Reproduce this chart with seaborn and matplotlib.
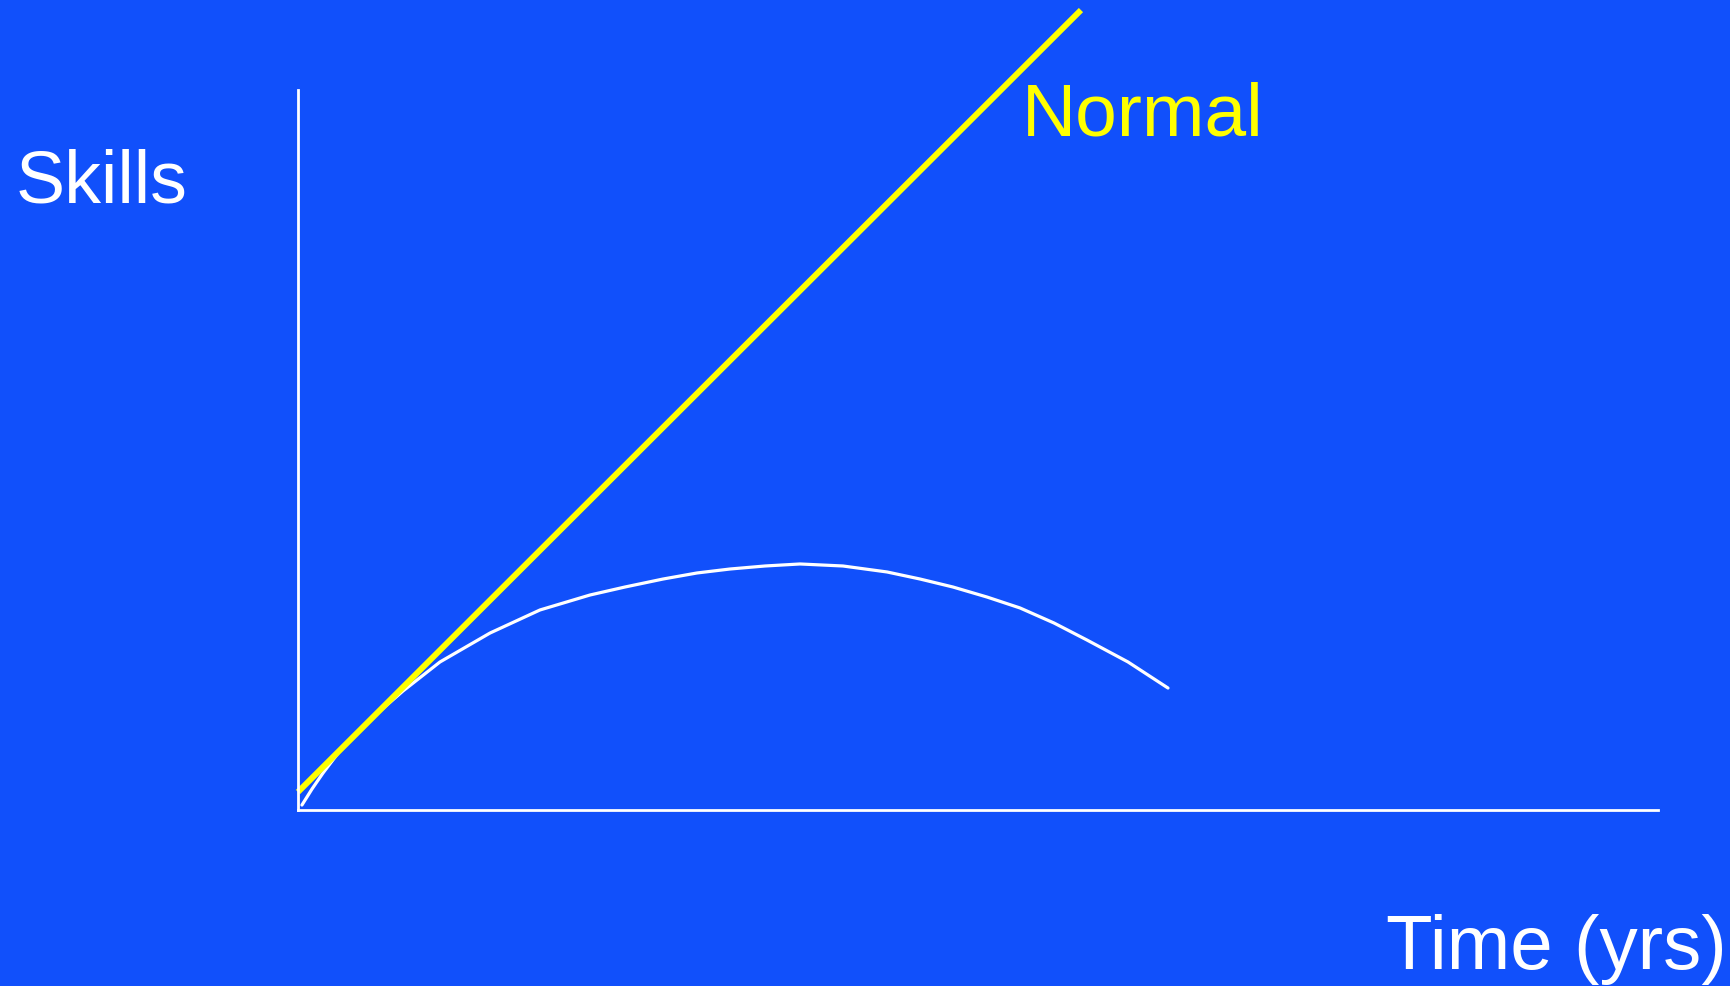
import matplotlib
matplotlib.use("Agg")
import matplotlib.pyplot as plt
import seaborn as sns
import pandas as pd

# Skill development over time: steady "Normal" growth vs. a curve that rises, peaks and declines
normal_years = [0.0, 5.757]
normal_skills = [0.25, 11.11]

curve_years = [0.029, 0.103, 0.184, 0.301, 0.434, 0.603, 0.772, 1.044, 1.412,
               1.779, 2.147, 2.404, 2.684, 2.934, 3.176, 3.434, 3.691, 4.007,
               4.331, 4.574, 4.816, 5.066, 5.309, 5.559, 5.801, 6.103, 6.397]
curve_skills = [0.069, 0.292, 0.514, 0.806, 1.069, 1.375, 1.653, 2.056, 2.458,
                2.778, 2.986, 3.097, 3.208, 3.292, 3.347, 3.389, 3.417, 3.389,
                3.306, 3.208, 3.097, 2.958, 2.806, 2.597, 2.361, 2.056, 1.694]

BG = "#1150FB"
YELLOW = "#FFFF00"

sns.set_theme(style="white")
plt.rcParams["font.family"] = ["Liberation Sans", "DejaVu Sans"]

W, H = 1730, 986
fig = plt.figure(figsize=(W / 100, H / 100), dpi=100, facecolor=BG)
ax = fig.add_axes([0, 0, 1, 1], facecolor=BG)

normal_df = pd.DataFrame({"years": normal_years, "skills": normal_skills})
curve_df = pd.DataFrame({"years": curve_years, "skills": curve_skills})

sns.lineplot(data=curve_df, x="years", y="skills", sort=False, color="white",
             linewidth=2.3, ax=ax, solid_joinstyle="round")
sns.lineplot(data=normal_df, x="years", y="skills", sort=False, color=YELLOW,
             linewidth=4.3, ax=ax, solid_capstyle="butt")

# data units: 136 px per year horizontally, 72 px per skill unit vertically
ax.set_xlim(-298 / 136, (W - 298) / 136)
ax.set_ylim(-(H - 810) / 72, 810 / 72)

for side in ("top", "right"):
    ax.spines[side].set_visible(False)
for side in ("left", "bottom"):
    ax.spines[side].set_visible(True)
    ax.spines[side].set_color("white")
    ax.spines[side].set_linewidth(2.0)
    ax.spines[side].set_position(("data", 0))
ax.spines["left"].set_bounds(0, 10)
ax.spines["bottom"].set_bounds(0, 10)
ax.set_xticks([])
ax.set_yticks([])
ax.set_xlabel("")
ax.set_ylabel("")

fig.text(16 / W, 1 - 203 / H, "Skills", color="white", fontsize=53,
         ha="left", va="baseline")
fig.text(1022 / W, 1 - 135 / H, "Normal", color=YELLOW, fontsize=54,
         ha="left", va="baseline")
fig.text(1386 / W, 1 - 969 / H, "Time (yrs)", color="white", fontsize=55,
         ha="left", va="baseline")

fig.savefig("out.png", dpi=100, facecolor=BG)
